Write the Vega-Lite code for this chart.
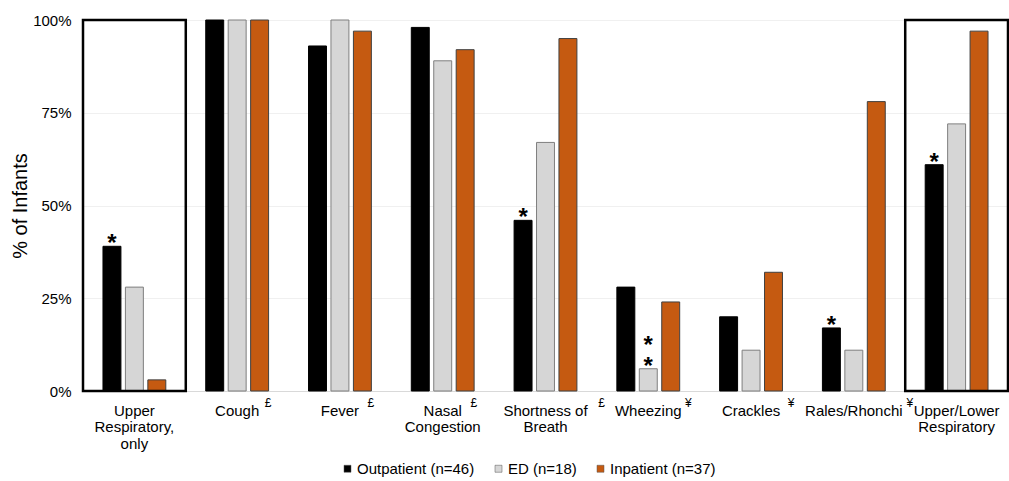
{
  "$schema": "https://vega.github.io/schema/vega-lite/v6.json",
  "width": 925,
  "height": 371,
  "autosize": {"type": "none"},
  "padding": {"left": 83, "top": 20, "right": 1, "bottom": 90},
  "config": {"font": "Liberation Sans", "view": {"stroke": null}},
  "data": {
    "values": [
      {"category": "Upper Respiratory, only", "group": "Outpatient (n=46)", "value": 39, "sig": "*", "sup": ""},
      {"category": "Upper Respiratory, only", "group": "ED (n=18)", "value": 28, "sig": "", "sup": ""},
      {"category": "Upper Respiratory, only", "group": "Inpatient (n=37)", "value": 3, "sig": "", "sup": ""},
      {"category": "Cough", "group": "Outpatient (n=46)", "value": 100, "sig": "", "sup": "£"},
      {"category": "Cough", "group": "ED (n=18)", "value": 100, "sig": "", "sup": "£"},
      {"category": "Cough", "group": "Inpatient (n=37)", "value": 100, "sig": "", "sup": "£"},
      {"category": "Fever", "group": "Outpatient (n=46)", "value": 93, "sig": "", "sup": "£"},
      {"category": "Fever", "group": "ED (n=18)", "value": 100, "sig": "", "sup": "£"},
      {"category": "Fever", "group": "Inpatient (n=37)", "value": 97, "sig": "", "sup": "£"},
      {"category": "Nasal Congestion", "group": "Outpatient (n=46)", "value": 98, "sig": "", "sup": "£"},
      {"category": "Nasal Congestion", "group": "ED (n=18)", "value": 89, "sig": "", "sup": "£"},
      {"category": "Nasal Congestion", "group": "Inpatient (n=37)", "value": 92, "sig": "", "sup": "£"},
      {"category": "Shortness of Breath", "group": "Outpatient (n=46)", "value": 46, "sig": "*", "sup": "£"},
      {"category": "Shortness of Breath", "group": "ED (n=18)", "value": 67, "sig": "", "sup": "£"},
      {"category": "Shortness of Breath", "group": "Inpatient (n=37)", "value": 95, "sig": "", "sup": "£"},
      {"category": "Wheezing", "group": "Outpatient (n=46)", "value": 28, "sig": "", "sup": "¥"},
      {"category": "Wheezing", "group": "ED (n=18)", "value": 6, "sig": "*\n*", "sup": "¥"},
      {"category": "Wheezing", "group": "Inpatient (n=37)", "value": 24, "sig": "", "sup": "¥"},
      {"category": "Crackles", "group": "Outpatient (n=46)", "value": 20, "sig": "", "sup": "¥"},
      {"category": "Crackles", "group": "ED (n=18)", "value": 11, "sig": "", "sup": "¥"},
      {"category": "Crackles", "group": "Inpatient (n=37)", "value": 32, "sig": "", "sup": "¥"},
      {"category": "Rales/Rhonchi", "group": "Outpatient (n=46)", "value": 17, "sig": "*", "sup": "¥"},
      {"category": "Rales/Rhonchi", "group": "ED (n=18)", "value": 11, "sig": "", "sup": "¥"},
      {"category": "Rales/Rhonchi", "group": "Inpatient (n=37)", "value": 78, "sig": "", "sup": "¥"},
      {"category": "Upper/Lower Respiratory", "group": "Outpatient (n=46)", "value": 61, "sig": "*", "sup": ""},
      {"category": "Upper/Lower Respiratory", "group": "ED (n=18)", "value": 72, "sig": "", "sup": ""},
      {"category": "Upper/Lower Respiratory", "group": "Inpatient (n=37)", "value": 97, "sig": "", "sup": ""}
    ]
  },
  "encoding": {
    "x": {
      "field": "category",
      "type": "nominal",
      "sort": ["Upper Respiratory, only", "Cough", "Fever", "Nasal Congestion", "Shortness of Breath", "Wheezing", "Crackles", "Rales/Rhonchi", "Upper/Lower Respiratory"],
      "scale": {"paddingInner": 0, "paddingOuter": 0},
      "axis": {
        "title": null,
        "ticks": false,
        "domainColor": "#d9d9d9",
        "labelFontSize": 15,
        "labelColor": "#000000",
        "labelPadding": 12,
        "labelLineHeight": 16.5,
        "labelAngle": 0,
        "labelLimit": 0,
        "labelExpr": "datum.label === 'Upper Respiratory, only' ? ['Upper','Respiratory,','only'] : datum.label === 'Nasal Congestion' ? ['Nasal','Congestion'] : datum.label === 'Shortness of Breath' ? ['Shortness of','Breath'] : datum.label === 'Upper/Lower Respiratory' ? ['Upper/Lower','Respiratory'] : datum.label"
      }
    }
  },
  "layer": [
    {
      "mark": {"type": "bar", "strokeWidth": 1},
      "encoding": {
        "xOffset": {"field": "group", "type": "nominal", "sort": ["Outpatient (n=46)", "ED (n=18)", "Inpatient (n=37)"], "scale": {"paddingInner": 0.2, "paddingOuter": 0.89}},
        "y": {
          "field": "value",
          "type": "quantitative",
          "scale": {"domain": [0, 100]},
          "axis": {
            "title": "% of Infants",
            "values": [0, 25, 50, 75, 100],
            "labelExpr": "datum.value + '%'",
            "ticks": false,
            "domain": false,
            "gridColor": "#f0f0f0",
            "labelFontSize": 15,
            "labelPadding": 12,
            "labelColor": "#000000",
            "titleColor": "#000000",
            "titleFontSize": 20,
            "titleFontWeight": "normal",
            "titlePadding": 2
          }
        },
        "color": {
          "field": "group",
          "type": "nominal",
          "sort": ["Outpatient (n=46)", "ED (n=18)", "Inpatient (n=37)"],
          "scale": {"range": ["#000000", "#d6d6d6", "#c55a11"]},
          "legend": {
            "title": null,
            "orient": "none",
            "legendX": 257,
            "legendY": 441,
            "direction": "horizontal",
            "symbolType": "square",
            "symbolSize": 49,
            "symbolStrokeColor": "#555555",
            "symbolStrokeWidth": 0.5,
            "labelFontSize": 15,
            "labelColor": "#000000",
            "labelOffset": 2,
            "columnPadding": 16
          }
        },
        "stroke": {
          "field": "group",
          "type": "nominal",
          "sort": ["Outpatient (n=46)", "ED (n=18)", "Inpatient (n=37)"],
          "scale": {"range": ["#000000", "#7f7f7f", "#404040"]},
          "legend": null
        }
      }
    },
    {
      "transform": [
        {"filter": "datum.group === 'Outpatient (n=46)' && (datum.category === 'Upper Respiratory, only' || datum.category === 'Upper/Lower Respiratory')"}
      ],
      "mark": {"type": "rect", "filled": false, "color": "#000000", "strokeWidth": 2.5},
      "encoding": {
        "y": {"datum": 0, "type": "quantitative"},
        "y2": {"datum": 100}
      }
    },
    {
      "transform": [{"filter": "datum.sig !== ''"}],
      "mark": {"type": "text", "fontSize": 24, "fontWeight": "bold", "baseline": "bottom", "dy": 10, "lineBreak": "\n", "lineHeight": -21, "color": "#000000"},
      "encoding": {
        "xOffset": {"field": "group", "type": "nominal", "sort": ["Outpatient (n=46)", "ED (n=18)", "Inpatient (n=37)"]},
        "y": {"field": "value", "type": "quantitative"},
        "text": {"field": "sig"}
      }
    },
    {
      "transform": [
        {"filter": "datum.group === 'Outpatient (n=46)'"},
        {"filter": {"field": "category", "oneOf": ["Cough", "Fever", "Nasal Congestion"]}}
      ],
      "mark": {"type": "text", "fontSize": 12, "baseline": "top", "dy": 7, "dx": 31, "color": "#000000"},
      "encoding": {"y": {"datum": 0, "type": "quantitative"}, "text": {"field": "sup"}}
    },
    {
      "transform": [
        {"filter": "datum.group === 'Outpatient (n=46)'"},
        {"filter": {"field": "category", "oneOf": ["Wheezing", "Crackles"]}}
      ],
      "mark": {"type": "text", "fontSize": 12, "baseline": "top", "dy": 7, "dx": 40, "color": "#000000"},
      "encoding": {"y": {"datum": 0, "type": "quantitative"}, "text": {"field": "sup"}}
    },
    {
      "transform": [
        {"filter": "datum.group === 'Outpatient (n=46)'"},
        {"filter": {"field": "category", "oneOf": ["Shortness of Breath", "Rales/Rhonchi"]}}
      ],
      "mark": {"type": "text", "fontSize": 12, "baseline": "top", "dy": 7, "dx": 56, "color": "#000000"},
      "encoding": {"y": {"datum": 0, "type": "quantitative"}, "text": {"field": "sup"}}
    }
  ]
}
